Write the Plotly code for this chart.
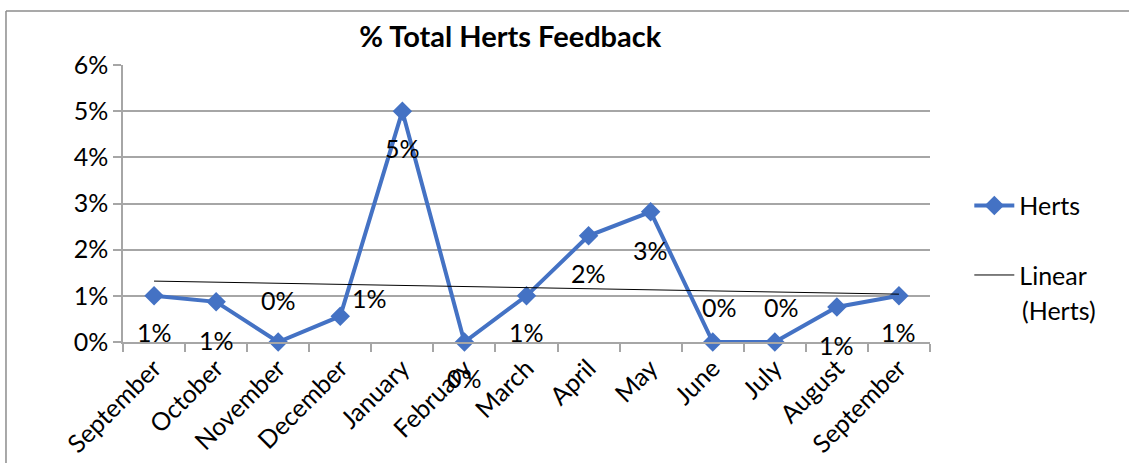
import numpy as np
import plotly.graph_objects as go

months = ["September", "October", "November", "December", "January", "February",
          "March", "April", "May", "June", "July", "August", "September"]
herts = [0.0100, 0.0087, 0.0000, 0.0056, 0.0500, 0.0000,
         0.0100, 0.0230, 0.0282, 0.0000, 0.0000, 0.0076, 0.0100]
y_ticks = [0, 0.01, 0.02, 0.03, 0.04, 0.05, 0.06]

# label offsets (pixels) as placed in the original chart
label_dx = [0, 0, 0, 29, 0, 0, 0, 0, 0, 7, 7, 0, 0]
label_dy = [-36, -38, 42, 18, -37, -36, -36, -37, -38, 35, 35, -38, -36]

FONT = "Lato"
FS = 25
BLUE = "#4472C4"
GRID = "#A6A6A6"

x = np.arange(len(months))
slope, intercept = np.polyfit(x, herts, 1)
trend = slope * x + intercept

fig = go.Figure()
fig.add_trace(go.Scatter(
    x=x, y=herts, mode="lines+markers", name="Herts",
    line=dict(color=BLUE, width=4),
    marker=dict(symbol="diamond", size=15, color=BLUE),
    legendgroup="a", cliponaxis=False,
))
fig.add_trace(go.Scatter(
    x=x, y=trend, mode="lines", name="Linear",
    line=dict(color="black", width=1),
    legendgroup="b",
))

for i, v in enumerate(herts):
    fig.add_annotation(x=x[i], y=v, text=f"{round(v * 100):.0f}%",
                       showarrow=False, xshift=label_dx[i], yshift=label_dy[i],
                       font=dict(family=FONT, size=FS, color="black"))

# second line of the trendline legend entry
fig.add_annotation(xref="paper", yref="paper", x=1.1115, y=0.1155,
                   xanchor="left", yanchor="middle", showarrow=False,
                   text="(Herts)", font=dict(family=FONT, size=FS, color="black"))

fig.add_shape(type="line", xref="paper", yref="paper",
              x0=-0.145, x1=-0.145, y0=1.195, y1=-0.6,
              line=dict(color="#8C8C8C", width=1.5), layer="above")
fig.add_shape(type="line", xref="paper", yref="paper",
              x0=-0.145, x1=1.4, y0=1.195, y1=1.195,
              line=dict(color="#8C8C8C", width=1.5), layer="above")

fig.update_layout(
    width=1129, height=463,
    margin=dict(l=123, r=199, t=65, b=121, autoexpand=False),
    paper_bgcolor="white", plot_bgcolor="white",
    font=dict(family=FONT, size=FS, color="black"),
    title=dict(text="<b>% Total Herts Feedback</b>", x=0.452, xanchor="center",
               y=0.92, yanchor="middle", xref="container",
               font=dict(family=FONT, size=29, color="black")),
    legend=dict(x=1.0487, xanchor="left", y=0.575, yanchor="top",
                font=dict(family=FONT, size=FS), tracegroupgap=34,
                bgcolor="rgba(0,0,0,0)", itemwidth=40),
    showlegend=True,
)
fig.update_xaxes(
    range=[-0.5, len(months) - 0.5], automargin=False,
    tickmode="array", tickvals=list(x), ticktext=months, tickangle=-45,
    ticks="", showgrid=False, zeroline=False,
    showline=True, linecolor=GRID, linewidth=1.5,
    tickfont=dict(family=FONT, size=FS),
    minor=dict(tickmode="array", tickvals=list(np.arange(-0.5, len(months), 1.0)),
               ticks="outside", ticklen=8, tickcolor=GRID, tickwidth=1.5, showgrid=False),
)
fig.update_yaxes(
    range=[0, 0.06], tickmode="array", tickvals=y_ticks, tickformat=".0%",
    automargin=False,
    showgrid=True, gridcolor=GRID, gridwidth=1.5, zeroline=False,
    showline=True, linecolor=GRID, linewidth=1.5,
    ticks="outside", ticklen=8, tickcolor=GRID, tickwidth=1.5,
    tickfont=dict(family=FONT, size=FS),
)

fig.write_html("out.html", config={"displayModeBar": False},
               post_script="document.body.style.margin='0';")
